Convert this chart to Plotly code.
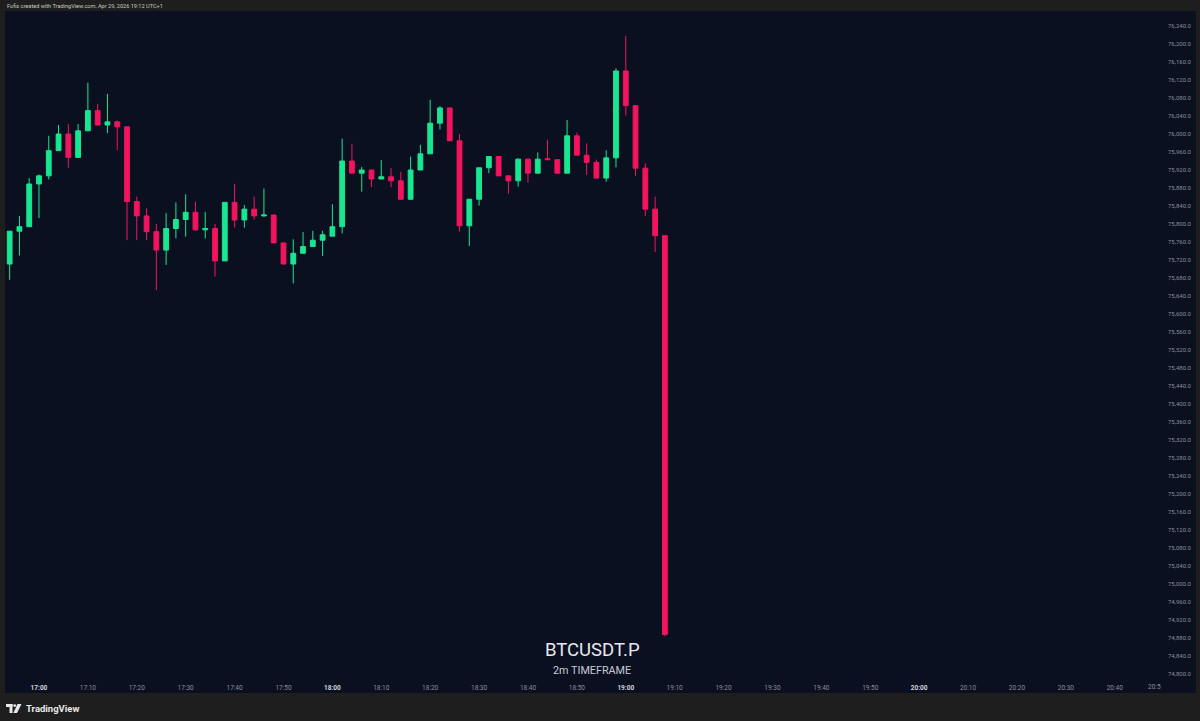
import plotly.graph_objects as go

# ---------------- data ----------------
DAY = "2026-04-29 "
times = ["16:54", "16:56", "16:58", "17:00", "17:02", "17:04", "17:06", "17:08", "17:10", "17:12",
         "17:14", "17:16", "17:18", "17:20", "17:22", "17:24", "17:26", "17:28", "17:30", "17:32",
         "17:34", "17:36", "17:38", "17:40", "17:42", "17:44", "17:46", "17:48", "17:50", "17:52",
         "17:54", "17:56", "17:58", "18:00", "18:02", "18:04", "18:06", "18:08", "18:10", "18:12",
         "18:14", "18:16", "18:18", "18:20", "18:22", "18:24", "18:26", "18:28", "18:30", "18:32",
         "18:34", "18:36", "18:38", "18:40", "18:42", "18:44", "18:46", "18:48", "18:50", "18:52",
         "18:54", "18:56", "18:58", "19:00", "19:02", "19:04", "19:06", "19:08"]
opens = [75711, 75784, 75794, 75889, 75907, 75963, 76000, 75948, 76007, 76052,
         76020, 76027, 76016, 75850, 75818, 75783, 75742, 75790, 75810, 75826,
         75787, 75790, 75718, 75848, 75809, 75833, 75818, 75820, 75758, 75711,
         75735, 75750, 75764, 75773, 75794, 75940, 75913, 75920, 75900, 75905,
         75896, 75855, 75920, 75956, 76024, 76058, 75985, 75796, 75855, 75925,
         75950, 75907, 75896, 75944, 75913, 75945, 75943, 75913, 75996, 75953,
         75937, 75902, 75947, 76140, 76063, 75924, 75833, 75774]
highs = [75784, 75818, 75902, 75910, 75996, 76020, 76022, 76022, 76114, 76067,
         76089, 76030, 76016, 75861, 75835, 75800, 75824, 75848, 75866, 75850,
         75827, 75800, 75848, 75889, 75842, 75861, 75879, 75820, 75758, 75766,
         75782, 75785, 75785, 75844, 75990, 75978, 75927, 75920, 75942, 75924,
         75916, 75950, 75976, 76076, 76062, 76058, 76000, 75855, 75925, 75950,
         75950, 75907, 75946, 75946, 75959, 75987, 75943, 76031, 76003, 75979,
         75943, 75964, 76146, 76218, 76063, 75935, 75861, 75774]
lows = [75676, 75730, 75794, 75813, 75899, 75963, 75925, 75948, 76007, 76020,
        76002, 75964, 75764, 75764, 75764, 75653, 75709, 75768, 75772, 75785,
        75768, 75683, 75718, 75792, 75792, 75810, 75816, 75758, 75711, 75668,
        75735, 75750, 75729, 75773, 75779, 75913, 75872, 75882, 75900, 75882,
        75855, 75855, 75920, 75956, 76010, 75985, 75783, 75751, 75841, 75913,
        75907, 75867, 75883, 75892, 75913, 75943, 75913, 75913, 75953, 75909,
        75902, 75894, 75926, 76041, 75907, 75818, 75738, 74884]
closes = [75784, 75794, 75889, 75907, 75963, 76000, 75948, 76007, 76052, 76020,
          76027, 76016, 75850, 75818, 75783, 75742, 75790, 75810, 75826, 75787,
          75790, 75718, 75848, 75809, 75833, 75818, 75820, 75758, 75711, 75735,
          75750, 75764, 75776, 75794, 75940, 75913, 75920, 75900, 75905, 75896,
          75855, 75920, 75956, 76024, 76058, 75985, 75796, 75855, 75925, 75950,
          75907, 75896, 75944, 75913, 75944, 75943, 75913, 75996, 75953, 75937,
          75902, 75947, 76140, 76063, 75924, 75833, 75774, 74888]
x_tick_labels = ["17:00", "17:10", "17:20", "17:30", "17:40", "17:50",
                 "18:00", "18:10", "18:20", "18:30", "18:40", "18:50",
                 "19:00", "19:10", "19:20", "19:30", "19:40", "19:50",
                 "20:00", "20:10", "20:20", "20:30", "20:40"]
hour_labels = ["17:00", "18:00", "19:00", "20:00"]
x_range = ["2026-04-29 16:53:03", "2026-04-29 20:49:52"]
y_range = [74786.67, 76273.33]

# ---------------- style ----------------
GREEN = "#18e690"
RED = "#f3145d"
NAVY = "#0b1021"
GRAY = "#1e1e1e"
AXIS_TXT = "#8a8e99"
FONT = "Roboto"

W_PX, H_PX = 1200, 721
L, R, T, B = 5, 37, 11, 41
PW, PH = W_PX - L - R, H_PX - T - B


def px(v):
    return (v - L) / PW


def py(v):
    return (T + PH - v) / PH


fig = go.Figure(go.Candlestick(
    x=[DAY + t for t in times], open=opens, high=highs, low=lows, close=closes,
    increasing=dict(line=dict(color=GREEN, width=1), fillcolor=GREEN),
    decreasing=dict(line=dict(color=RED, width=1), fillcolor=RED),
    whiskerwidth=0, hoverinfo="skip", showlegend=False,
))

ticktext = []
for lab in x_tick_labels:
    if lab in hour_labels:
        ticktext.append("<b><span style='color:#d1d4dc'>" + lab + "</span></b>")
    else:
        ticktext.append(lab)

shapes = [
    dict(type="rect", xref="paper", yref="paper", x0=px(0), x1=px(1200), y0=py(11), y1=py(0),
         fillcolor=GRAY, line=dict(width=0), layer="below"),
    dict(type="rect", xref="paper", yref="paper", x0=px(0), x1=px(1200), y0=py(721), y1=py(693),
         fillcolor=GRAY, line=dict(width=0), layer="below"),
    dict(type="rect", xref="paper", yref="paper", x0=px(0), x1=px(5), y0=py(721), y1=py(0),
         fillcolor=GRAY, line=dict(width=0), layer="below"),
    dict(type="rect", xref="paper", yref="paper", x0=px(1196), x1=px(1200), y0=py(721), y1=py(0),
         fillcolor=GRAY, line=dict(width=0), layer="below"),
    # TradingView logo
    dict(type="rect", xref="paper", yref="paper", x0=px(6), x1=px(12.5), y0=py(707), y1=py(704),
         fillcolor="#e8e8e8", line=dict(width=0)),
    dict(type="rect", xref="paper", yref="paper", x0=px(9.5), x1=px(12.5), y0=py(713), y1=py(704),
         fillcolor="#e8e8e8", line=dict(width=0)),
    dict(type="circle", xref="paper", yref="paper", x0=px(13.3), x1=px(16.1), y0=py(707), y1=py(704.2),
         fillcolor="#e8e8e8", line=dict(width=0)),
    dict(type="path", xref="paper", yref="paper",
         path="M {} {} L {} {} L {} {} L {} {} Z".format(px(17.5), py(704), px(21.5), py(704),
                                                       px(17), py(713), px(13.3), py(713)),
         fillcolor="#e8e8e8", line=dict(width=0)),
]

annotations = [
    dict(text="Fofis created with TradingView.com, Apr 29, 2026 19:12 UTC+1",
         xref="paper", yref="paper", x=px(5), y=py(5.5), xanchor="left", yanchor="middle",
         showarrow=False, font=dict(family=FONT, size=5.6, color="#c9c9c9")),
    dict(text="BTCUSDT.P", xref="paper", yref="paper", x=px(592), y=py(650),
         xanchor="center", yanchor="middle", showarrow=False,
         font=dict(family=FONT, size=18.5, color="#e6e8ee")),
    dict(text="2m TIMEFRAME", xref="paper", yref="paper", x=px(592), y=py(670),
         xanchor="center", yanchor="middle", showarrow=False,
         font=dict(family=FONT, size=10.8, color="#c7cad1")),
    dict(text="<b>TradingView</b>", xref="paper", yref="paper", x=px(24), y=py(708.5),
         xanchor="left", yanchor="middle", showarrow=False,
         font=dict(family=FONT, size=9.5, color="#e8e8e8")),
    dict(text="20:5", xref="paper", yref="paper", x=px(1163), y=py(687),
         xanchor="right", yanchor="middle", showarrow=False,
         font=dict(family=FONT, size=6.5, color=AXIS_TXT)),
]

fig.update_layout(
    width=W_PX, height=H_PX, autosize=False,
    margin=dict(l=L, r=R, t=T, b=B, pad=0),
    paper_bgcolor=NAVY, plot_bgcolor=NAVY,
    font=dict(family=FONT, color=AXIS_TXT),
    shapes=shapes, annotations=annotations,
    xaxis=dict(
        type="date", range=x_range, rangeslider=dict(visible=False),
        tickvals=[DAY + t for t in x_tick_labels], ticktext=ticktext,
        showgrid=False, zeroline=False, showline=False, ticks="",
        tickfont=dict(family=FONT, size=6.5, color=AXIS_TXT),
        ticklabelstandoff=2, fixedrange=True,
    ),
    yaxis=dict(
        side="right", range=y_range, tick0=74800, dtick=40, tickformat=",.1f",
        showgrid=False, zeroline=False, showline=False, ticks="",
        tickfont=dict(family=FONT, size=6, color=AXIS_TXT),
        ticklabelstandoff=4, fixedrange=True,
    ),
    hovermode=False,
)

fig.write_html("out.html", config=dict(displayModeBar=False),
               post_script="document.body.style.margin='0';document.body.style.background='#1e1e1e';")
